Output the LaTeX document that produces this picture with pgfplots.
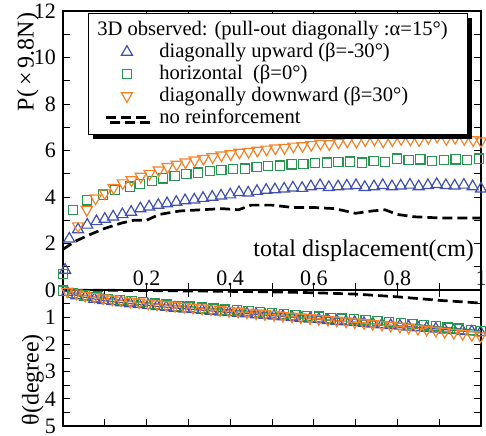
\documentclass[border=0pt]{standalone}
\usepackage{fontspec}
\setmainfont{Liberation Serif}
\usepackage{pgfplots}
\pgfplotsset{compat=1.18}
\usetikzlibrary{shadows}
\definecolor{cblue}{RGB}{64,80,176}
\definecolor{cgreen}{RGB}{40,150,80}
\definecolor{corange}{RGB}{245,130,40}
\pgfplotsset{myleg/.style={legend image code/.code={\draw[mark repeat=2,mark phase=2,##1] plot coordinates {(0pt,0pt)(10.5pt,0pt)(21pt,0pt)};}},
  base/.style={scale only axis, width=209pt, xmin=0, xmax=1, clip=false,
    major tick length=3.5pt, minor tick length=3.5pt,
    tick style={black, line width=0.5pt},
    axis line style={line width=0.6pt},
    tick label style={font=\fontsize{11}{13}\selectfont},
    label style={font=\fontsize{12}{14}\selectfont},
    /pgf/number format/assume math mode=true},
  mkup/.style={only marks, cblue, mark=triangle, mark size=3.2pt, mark options={line width=0.6pt, fill=none}},
  mkhor/.style={only marks, cgreen, mark=square, mark size=2.3pt, mark options={line width=0.6pt, fill=none}},
  mkdown/.style={only marks, corange, mark=triangle, mark size=3.2pt, mark options={rotate=180, line width=0.6pt, fill=none}},
  dashblk/.style={black, line width=1.35pt, dash pattern=on 5pt off 2.5pt}}
\begin{document}
\begin{tikzpicture}
\begin{axis}[base, name=top, height=139.5pt, ymin=0, ymax=12,
  xtick={0.2,0.4,0.6,0.8,1}, minor x tick num=1,
  ytick={0,2,4,6,8,10,12}, minor y tick num=1,
  xticklabel style={anchor=south, yshift=-1.5pt},
  xlabel={total displacement(cm)},
  xlabel style={at={(axis description cs:1.0,0.14)}, anchor=east},
  ylabel={P(\,×\,9.8N)},
  ylabel style={at={(axis description cs:-0.084,0.817)}, anchor=center},
  legend cell align=left,
  legend style={at={(axis description cs:0.06,0.993)}, anchor=north west,
    draw=black, line width=0.5pt, fill=white,
    drop shadow={shadow xshift=2.2pt, shadow yshift=-2.2pt, fill=black, opacity=1},
    inner xsep=8pt, inner ysep=3pt, column sep=5pt,
    font=\fontsize{10.3}{12}\selectfont,
    nodes={inner ysep=1.1pt, inner xsep=0pt}},
]
\addlegendimage{empty legend}
\addlegendentry{\hspace*{-31pt}3D observed: (pull-out diagonally :α=15°)\hspace*{2pt}}

\addplot[mkup, myleg] coordinates {
(0.005,0.86)(0.015,2.2)(0.036,2.6)(0.058,2.8)(0.080,2.95)(0.100,3.05)(0.120,3.15)(0.142,3.25)
(0.163,3.35)(0.185,3.5)(0.206,3.58)(0.228,3.65)(0.249,3.72)(0.271,3.78)(0.292,3.85)(0.314,3.88)
(0.335,3.95)(0.357,4.0)(0.378,4.05)(0.400,4.1)(0.421,4.2)(0.443,4.18)(0.464,4.25)(0.486,4.3)
(0.507,4.32)(0.529,4.35)(0.550,4.4)(0.572,4.38)(0.593,4.45)(0.615,4.5)(0.636,4.42)(0.658,4.45)
(0.679,4.48)(0.701,4.5)(0.722,4.42)(0.744,4.45)(0.765,4.5)(0.787,4.45)(0.808,4.48)(0.830,4.52)
(0.851,4.45)(0.873,4.5)(0.894,4.55)(0.916,4.5)(0.937,4.48)(0.959,4.52)(0.980,4.45)(1.000,4.35)};
\addlegendentry{diagonally upward (β=-30°)}

\addplot[mkhor, myleg] coordinates {
(0.000,0.7)(0.024,3.44)(0.057,3.85)(0.096,4.1)(0.124,4.3)(0.160,4.45)(0.184,4.55)(0.213,4.7)
(0.239,4.8)(0.267,4.9)(0.295,4.98)(0.323,5.05)(0.351,5.12)(0.379,5.15)(0.407,5.2)(0.435,5.22)
(0.463,5.28)(0.491,5.33)(0.519,5.35)(0.547,5.4)(0.575,5.42)(0.603,5.45)(0.631,5.48)(0.659,5.5)
(0.687,5.52)(0.715,5.48)(0.743,5.55)(0.771,5.5)(0.799,5.65)(0.827,5.6)(0.855,5.62)(0.883,5.55)
(0.911,5.58)(0.939,5.62)(0.967,5.6)(0.995,5.65)};
\addlegendentry{horizontal\ \ (β=0°)}

\addplot[mkdown, myleg] coordinates {
(0.036,2.75)(0.057,3.45)(0.078,3.95)(0.100,4.17)(0.121,4.4)(0.143,4.6)(0.164,4.73)(0.186,4.88)
(0.207,5.0)(0.229,5.15)(0.250,5.3)(0.272,5.4)(0.293,5.5)(0.315,5.58)(0.336,5.65)(0.358,5.72)
(0.379,5.8)(0.401,5.85)(0.422,5.92)(0.444,5.95)(0.465,6.0)(0.487,6.05)(0.508,6.1)(0.530,6.12)
(0.551,6.18)(0.573,6.2)(0.594,6.25)(0.616,6.3)(0.637,6.28)(0.659,6.35)(0.680,6.4)(0.702,6.38)
(0.723,6.45)(0.745,6.48)(0.766,6.4)(0.788,6.45)(0.809,6.5)(0.831,6.48)(0.852,6.45)(0.874,6.55)
(0.895,6.6)(0.917,6.5)(0.938,6.55)(0.960,6.5)(0.981,6.45)(1.000,6.4)};
\addlegendentry{diagonally downward (β=30°)}

\addplot[dashblk, myleg] coordinates {
(0,1.75)(0.03,2.1)(0.06,2.35)(0.10,2.65)(0.14,2.88)(0.17,3.0)(0.20,3.0)(0.23,3.25)(0.28,3.4)
(0.33,3.45)(0.38,3.5)(0.42,3.45)(0.45,3.65)(0.50,3.65)(0.55,3.55)(0.60,3.55)(0.65,3.5)(0.70,3.3)
(0.74,3.4)(0.77,3.45)(0.80,3.25)(0.84,3.15)(0.90,3.1)(0.95,3.1)(1.00,3.1)};
\addlegendentry{no reinforcement}
\end{axis}

\begin{axis}[base, at={(top.south west)}, anchor=north west, height=68pt,
  ymin=0, ymax=5, y dir=reverse,
  xtick={0,0.1,0.2,0.3,0.4,0.5,0.6,0.7,0.8,0.9,1}, xticklabels={},
  ytick={0,1,2,3,4,5}, yticklabels={,1,2,3,4,5}, minor y tick num=1,
  ylabel={θ(degree)},
  ylabel style={at={(axis description cs:-0.072,0.34)}, anchor=center},
]
\addplot[cblue, line width=0.6pt, mark=triangle, mark size=3.2pt, mark options={line width=0.6pt, fill=none}] coordinates {
(0.010,0.08)(0.032,0.2)(0.053,0.27)(0.075,0.33)(0.096,0.38)(0.118,0.42)(0.139,0.46)(0.161,0.5)
(0.182,0.53)(0.204,0.56)(0.225,0.6)(0.247,0.63)(0.268,0.66)(0.290,0.69)(0.311,0.71)(0.333,0.74)
(0.354,0.77)(0.376,0.8)(0.397,0.82)(0.419,0.85)(0.440,0.87)(0.462,0.9)(0.483,0.92)(0.505,0.95)
(0.526,0.98)(0.548,1.0)(0.569,1.03)(0.591,1.06)(0.612,1.08)(0.634,1.11)(0.655,1.14)(0.677,1.16)
(0.698,1.19)(0.720,1.22)(0.741,1.24)(0.763,1.27)(0.784,1.3)(0.806,1.32)(0.827,1.35)(0.849,1.38)
(0.870,1.4)(0.892,1.43)(0.913,1.46)(0.935,1.48)(0.956,1.51)(0.978,1.53)(0.999,1.56)};
\addplot[cgreen, line width=0.6pt, mark=square, mark size=2.3pt, mark options={line width=0.6pt, fill=none}] coordinates {
(0.000,0.02)(0.024,0.12)(0.052,0.2)(0.080,0.26)(0.108,0.32)(0.136,0.37)(0.164,0.41)(0.192,0.45)
(0.220,0.5)(0.248,0.54)(0.276,0.58)(0.304,0.61)(0.332,0.65)(0.360,0.68)(0.388,0.72)(0.416,0.75)
(0.444,0.78)(0.472,0.82)(0.500,0.85)(0.528,0.88)(0.556,0.92)(0.584,0.95)(0.612,0.98)(0.640,1.02)
(0.668,1.05)(0.696,1.08)(0.724,1.12)(0.752,1.15)(0.780,1.19)(0.808,1.22)(0.836,1.26)(0.864,1.3)
(0.892,1.34)(0.920,1.38)(0.948,1.42)(0.976,1.46)(1.000,1.5)};
\addplot[corange, line width=0.8pt, mark=triangle, mark size=3.2pt, mark options={rotate=180, line width=0.6pt, fill=none}] coordinates {
(0.010,0.05)(0.032,0.12)(0.053,0.2)(0.075,0.25)(0.096,0.3)(0.118,0.34)(0.139,0.38)(0.161,0.42)
(0.182,0.45)(0.204,0.49)(0.225,0.52)(0.247,0.55)(0.268,0.58)(0.290,0.61)(0.311,0.64)(0.333,0.67)
(0.354,0.7)(0.376,0.73)(0.397,0.76)(0.419,0.79)(0.440,0.82)(0.462,0.85)(0.483,0.88)(0.505,0.91)
(0.526,0.94)(0.548,0.97)(0.569,1.0)(0.591,1.03)(0.612,1.06)(0.634,1.09)(0.655,1.12)(0.677,1.15)
(0.698,1.18)(0.720,1.21)(0.741,1.24)(0.763,1.27)(0.784,1.3)(0.806,1.34)(0.827,1.38)(0.849,1.42)
(0.870,1.45)(0.892,1.49)(0.913,1.53)(0.935,1.57)(0.956,1.61)(0.978,1.65)(0.999,1.7)};
\addplot[dashblk] coordinates {
(0,0.0)(0.2,0.02)(0.4,0.05)(0.5,0.07)(0.6,0.1)(0.7,0.15)(0.8,0.25)(0.9,0.38)(1.0,0.48)};
\end{axis}
\pgfresetboundingbox
\path[use as bounding box] ([shift={(-31.5pt,5.5pt)}]top.north west) rectangle ++(243pt,-217.5pt);
\end{tikzpicture}
\end{document}
